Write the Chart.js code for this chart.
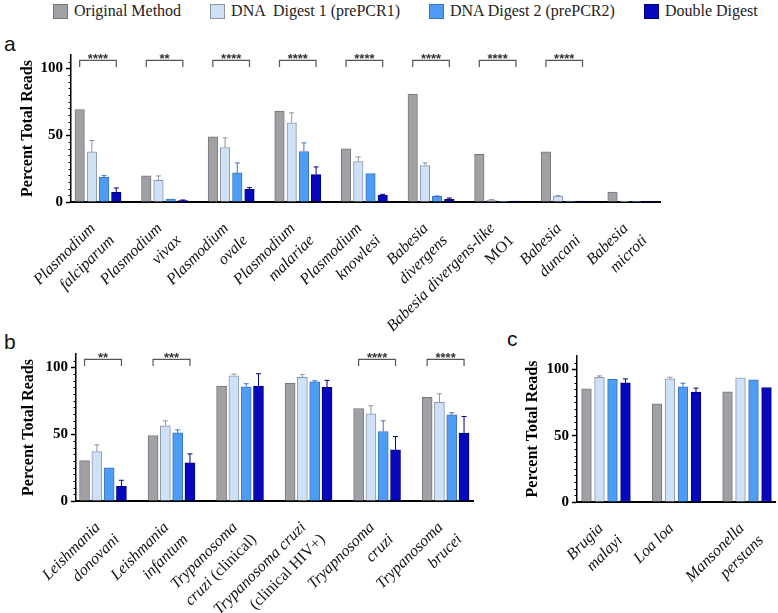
<!DOCTYPE html>
<html>
<head>
<meta charset="utf-8">
<title>Percent Total Reads</title>
<script src="https://cdn.jsdelivr.net/npm/chart.js@4.4.1/dist/chart.umd.min.js"></script>
<style>
  body { margin: 0; background: #fff; }
  #page { position: relative; width: 778px; height: 613px; overflow: hidden; font-family: "Liberation Serif", serif; }
  canvas { position: absolute; }
  #legend { position: absolute; top: 2px; left: 53px; display: flex; gap: 29px; font-size: 16px; color: #222; white-space: pre; }
  #legend .item { display: flex; align-items: center; }
  #legend .box { width: 13px; height: 13px; border: 1px solid; margin-right: 6px; }
  .tag { position: absolute; font-family: "Liberation Sans", Arial, sans-serif; font-size: 21px; color: #111; }
</style>
</head>
<body>
<div id="page">
  <div id="legend"></div>
  <span class="tag" style="left:4px; top:32px;">a</span>
  <span class="tag" style="left:4px; top:330px;">b</span>
  <span class="tag" style="left:507px; top:327px;">c</span>
  <canvas id="panelA" width="778" height="338" style="left:0; top:0;"></canvas>
  <canvas id="panelB" width="495" height="275" style="left:0; top:338px;"></canvas>
  <canvas id="panelC" width="278" height="275" style="left:500px; top:338px;"></canvas>
</div>
<script>
// Series
const seriesNames = ['Original Method', 'DNA  Digest 1 (prePCR1)', 'DNA Digest 2 (prePCR2)', 'Double Digest'];
const fillColors = ['#a1a1a5', '#cfe1f7', '#4e9cf4', '#0707bd'];
const edgeColors = ['#77777b', '#8a96a6', '#3a76c4', '#00007e'];
const yTicks = [0, 50, 100];
const serif = '"Liberation Serif", "Times New Roman", serif';

// Panel a - Plasmodium / Babesia
const speciesA = [
    ['Plasmodium', 'falciparum'], ['Plasmodium', 'vivax'], ['Plasmodium', 'ovale'],
    ['Plasmodium', 'malariae'], ['Plasmodium', 'knowlesi'], ['Babesia', 'divergens'],
    ['Babesia divergens-like', 'MO1'], ['Babesia', 'duncani'], ['Babesia', 'microti']
];
const originalA = [69.25, 19.5, 48.75, 68, 39.75, 80.75, 35.75, 37.5, 7.5];
const digest1A = [37.5, 16.25, 40.75, 59.25, 30.25, 27.25, 1.5, 4.5, 0.5];
const digest2A = [18.5, 2.25, 21.75, 37.75, 21.25, 4.25, 0.5, 0.75, 0.25];
const doubleA = [7.25, 1, 9.5, 20.5, 5, 2, 0.75, 0.75, 0.5];
const digest1ErrA = [8.5, 3.25, 7.25, 7.5, 3.5, 2, 0.3, 0.3, 0];
const digest2ErrA = [1.25, 0, 7.5, 6.5, 0, 0.3, 0, 0, 0];
const doubleErrA = [3.25, 0.5, 1.25, 5.75, 0.75, 1, 0, 0, 0];
const starsA = ['****', '**', '****', '****', '****', '****', '****', '****', ''];

// Panel b - Leishmania / Trypanosoma
const speciesB = [
    ['Leishmania', 'donovani'], ['Leishmania', 'infantum'], ['Trypanosoma', 'cruzi (clinical)'],
    ['Trypanosoma cruzi', '(clinical HIV+)'], ['Tryapnosoma', 'cruzi'], ['Trypanosoma', 'brucei']
];
const originalB = [30.25, 49, 86, 88, 69.25, 77.5];
const digest1B = [37, 56.25, 93.75, 92.5, 65.25, 73.75];
const digest2B = [24.75, 51, 85.5, 89.25, 52, 64.5];
const doubleB = [11, 28.5, 86, 85, 38.25, 50.75];
const digest1ErrB = [5, 3.75, 1.25, 2.25, 6, 6.5];
const digest2ErrB = [0, 2.25, 2.25, 0.75, 8, 1.5];
const doubleErrB = [4.5, 6.75, 9.25, 5.25, 10, 12.5];
const starsB = ['**', '***', '', '', '****', '****'];

// Panel c - filarial worms
const speciesC = [['Brugia', 'malayi'], ['Loa loa'], ['Mansonella', 'perstans']];
const originalC = [85.25, 74, 83];
const digest1C = [94, 92.75, 93.5];
const digest2C = [92.5, 86.75, 92];
const doubleC = [89.75, 82.75, 86.25];
const digest1ErrC = [1, 1.25, 0];
const digest2ErrC = [0, 2.75, 0];
const doubleErrC = [3, 3, 0];
const starsC = ['', '', ''];

// HTML legend
const legendEl = document.getElementById('legend');
seriesNames.forEach((name, k) => {
    const item = document.createElement('div');
    item.className = 'item';
    item.innerHTML = '<span class="box" style="background:' + fillColors[k] + ';border-color:' + edgeColors[k] + '"></span><span></span>';
    item.lastChild.textContent = name;
    legendEl.appendChild(item);
});

// Upper error bars
const errorBarPlugin = {
    id: 'errorBars',
    afterDatasetsDraw(chart) {
        const ctx = chart.ctx;
        const y = chart.scales.y;
        chart.data.datasets.forEach((ds, k) => {
            if (!ds.errors) return;
            const meta = chart.getDatasetMeta(k);
            meta.data.forEach((bar, i) => {
                const err = ds.errors[i];
                if (!err) return;
                const top = y.getPixelForValue(ds.data[i].y + err);
                ctx.save();
                ctx.strokeStyle = edgeColors[k];
                ctx.lineWidth = 1;
                ctx.beginPath();
                ctx.moveTo(bar.x, bar.y);
                ctx.lineTo(bar.x, top);
                ctx.moveTo(bar.x - 2.5, top);
                ctx.lineTo(bar.x + 2.5, top);
                ctx.stroke();
                ctx.restore();
            });
        });
    }
};

// Significance brackets
const bracketPlugin = {
    id: 'brackets',
    afterDatasetsDraw(chart, args, opts) {
        const ctx = chart.ctx;
        const y = chart.scales.y;
        const first = chart.getDatasetMeta(0).data;
        const last = chart.getDatasetMeta(chart.data.datasets.length - 1).data;
        const yTop = y.getPixelForValue(106);
        const yEnd = y.getPixelForValue(101);
        (opts.stars || []).forEach((s, i) => {
            if (!s) return;
            const x0 = first[i].x, x1 = last[i].x;
            ctx.save();
            ctx.strokeStyle = '#555';
            ctx.lineWidth = 1.2;
            ctx.beginPath();
            ctx.moveTo(x0, yEnd);
            ctx.lineTo(x0, yTop);
            ctx.lineTo(x1, yTop);
            ctx.lineTo(x1, yEnd);
            ctx.stroke();
            ctx.fillStyle = '#333';
            ctx.font = 'bold 13px "Liberation Sans"';
            ctx.textAlign = 'center';
            ctx.textBaseline = 'alphabetic';
            ctx.fillText(s, (x0 + x1) / 2, yTop + 3);
            ctx.restore();
        });
    }
};

// Rotated species names, italic except strain notes
function splitSegments(line) {
    return line.split(/(\(.*?\)|MO1)/).filter(s => s).map(s => ({
        text: s,
        italic: !/^\(|^MO1$/.test(s)
    }));
}

const speciesPlugin = {
    id: 'species',
    afterDraw(chart, args, opts) {
        const ctx = chart.ctx;
        const x = chart.scales.x;
        const baseY = x.top;
        (opts.lines || []).forEach((lines, i) => {
            const cx = x.getPixelForValue(i);
            ctx.save();
            ctx.translate(cx - 2, baseY + 27);
            ctx.rotate(-Math.PI / 4);
            ctx.fillStyle = '#111';
            ctx.textBaseline = 'alphabetic';
            ctx.textAlign = 'left';
            lines.forEach((line, k) => {
                const segs = splitSegments(line);
                let total = 0;
                segs.forEach(sg => {
                    ctx.font = (sg.italic ? 'italic ' : '') + '16px ' + serif;
                    sg.w = ctx.measureText(sg.text).width;
                    total += sg.w;
                });
                let cur = k * 5 - total;
                segs.forEach(sg => {
                    ctx.font = (sg.italic ? 'italic ' : '') + '16px ' + serif;
                    ctx.fillText(sg.text, cur, k * 22);
                    cur += sg.w;
                });
            });
            ctx.restore();
        });
    }
};

// Minor ticks on the value axis
const minorTickPlugin = {
    id: 'minorTicks',
    afterDraw(chart) {
        const ctx = chart.ctx;
        const y = chart.scales.y;
        ctx.save();
        ctx.strokeStyle = '#000';
        ctx.lineWidth = 1;
        ctx.beginPath();
        for (let v = 5; v < y.max; v += 5) {
            if (v % 50 === 0) continue;
            const py = Math.round(y.getPixelForValue(v)) + 0.5;
            ctx.moveTo(y.right - 2.5, py);
            ctx.lineTo(y.right, py);
        }
        ctx.stroke();
        ctx.restore();
    }
};

function makePanel(id, cfg) {
    const datasets = cfg.series.map((vals, k) => ({
        label: seriesNames[k],
        data: vals.map((v, i) => ({ x: i, y: v })),
        errors: cfg.errors[k],
        backgroundColor: fillColors[k],
        borderColor: edgeColors[k],
        borderWidth: 1,
        barThickness: cfg.pitch,
        maxBarThickness: cfg.barWidth
    }));

    return new Chart(document.getElementById(id), {
        type: 'bar',
        data: { datasets },
        options: {
            responsive: false,
            animation: false,
            events: [],
            layout: { padding: cfg.padding },
            plugins: {
                legend: { display: false },
                tooltip: { enabled: false },
                brackets: { stars: cfg.stars },
                species: { lines: cfg.species }
            },
            scales: {
                x: {
                    type: 'linear',
                    min: cfg.xMin,
                    max: cfg.xMax,
                    offset: false,
                    grid: { display: false },
                    ticks: { display: false },
                    border: { display: true, color: '#000', width: 2 },
                    afterFit: s => { s.height = cfg.xHeight; }
                },
                y: {
                    min: 0,
                    max: 110,
                    afterBuildTicks: s => { s.ticks = yTicks.map(v => ({ value: v })); },
                    ticks: {
                        color: '#000',
                        padding: 3,
                        font: { family: serif, size: 15, weight: 'bold' }
                    },
                    grid: {
                        drawOnChartArea: false,
                        drawTicks: true,
                        tickLength: 5,
                        tickWidth: 1.5,
                        color: '#000'
                    },
                    border: { display: true, color: '#000', width: 1.5 },
                    title: {
                        display: true,
                        text: 'Percent Total Reads',
                        color: '#000',
                        padding: 0,
                        font: { family: serif, size: 16, weight: 'bold' }
                    },
                    afterFit: s => { s.width = cfg.yWidth; }
                }
            }
        },
        plugins: [errorBarPlugin, bracketPlugin, speciesPlugin, minorTickPlugin]
    });
}

makePanel('panelA', {
    series: [originalA, digest1A, digest2A, doubleA],
    errors: [null, digest1ErrA, digest2ErrA, doubleErrA],
    stars: starsA,
    species: speciesA,
    xMin: -0.405, xMax: 8.438,
    pitch: 12.2, barWidth: 9.5,
    padding: { top: 55, left: 18, right: 118, bottom: 0 },
    yWidth: 53, xHeight: 136
});

makePanel('panelB', {
    series: [originalB, digest1B, digest2B, doubleB],
    errors: [null, digest1ErrB, digest2ErrB, doubleErrB],
    stars: starsB,
    species: speciesB,
    xMin: -0.394, xMax: 5.40,
    pitch: 12.3, barWidth: 10,
    padding: { top: 16, left: 19, right: 22, bottom: 0 },
    yWidth: 57, xHeight: 112
});

makePanel('panelC', {
    series: [originalC, digest1C, digest2C, doubleC],
    errors: [null, digest1ErrC, digest2ErrC, doubleErrC],
    stars: starsC,
    species: speciesC,
    xMin: -0.411, xMax: 2.397,
    pitch: 13, barWidth: 9.7,
    padding: { top: 18, left: 23, right: 3, bottom: 0 },
    yWidth: 54, xHeight: 111
});
</script>
</body>
</html>
